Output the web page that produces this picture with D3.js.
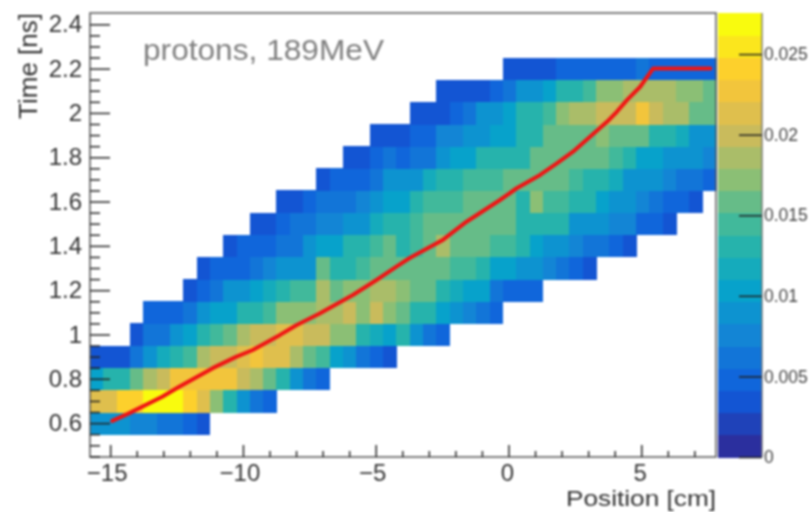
<!DOCTYPE html>
<html lang="en">
<head>
    <meta charset="UTF-8">
    <title>protons, 189MeV</title>
    <script src="https://d3js.org/d3.v7.min.js"></script>
    <style>
        html, body { margin: 0; padding: 0; background: #fff; }
        svg { display: block; filter: blur(0.9px); }
        text { font-family: "Liberation Sans", Arial, sans-serif; }
    </style>
</head>
<body>
<div id="chart-container"></div>
<script>
    // time bins (ns) and the first filled position bin of every time row
    const timeBins = [0.6, 0.7, 0.8, 0.9, 1.0, 1.1, 1.2, 1.3, 1.4, 1.5, 1.6, 1.7, 1.8, 1.9, 2.0, 2.1, 2.2];
    const firstBin = [0, 0, 0, 0, 3, 4, 7, 8, 10, 12, 14, 17, 19, 21, 24, 26, 31];

    // bin contents, one list per time row
    const row06 = [.0085, .0085, .0085, .0075, .0075, .0065, .006, .0045, .004];
    const row07 = [.0215, .0215, .0245, .0245, .0272, .0272, .0272, .0245, .022, .0175, .0125, .0095, .0065, .0045];
    const row08 = [.0105, .0125, .0135, .0165, .018, .0205, .023, .023, .023, .023, .023, .0205, .0185, .0155, .0125, .0095, .006, .005];
    const row09 = [.0035, .0035, .0035, .0065, .0095, .0115, .0135, .015, .018, .0195, .0195, .0215, .023, .0215, .0215, .018, .016, .015, .0105, .0095, .0065, .0055, .004];
    const row10 = [.004, .0065, .0065, .0085, .011, .0125, .014, .0155, .0185, .0195, .0205, .0215, .0215, .0195, .0195, .0175, .017, .0135, .012, .0105, .0125, .0085, .0065, .0045];
    const row11 = [.0045, .0045, .0055, .0065, .0085, .01, .0105, .0125, .0135, .015, .0175, .0175, .0175, .0185, .0185, .0195, .0175, .0195, .0175, .0165, .013, .013, .011, .0085, .007, .0065, .0045];
    const row12 = [.004, .005, .0065, .0085, .0095, .0105, .0115, .0125, .0145, .0145, .0185, .0155, .0175, .0175, .018, .018, .017, .0165, .0165, .013, .012, .0105, .0105, .0065, .0055, .0045, .0045];
    const row13 = [.0035, .0045, .0045, .005, .0065, .0075, .0085, .0085, .0095, .0155, .0125, .0135, .014, .0165, .0155, .0155, .0165, .0165, .0165, .0145, .0145, .013, .0105, .0105, .0095, .0085, .007, .0065, .0055, .004];
    const row14 = [.0035, .0045, .0045, .005, .0065, .0065, .0085, .0105, .0105, .0125, .0125, .015, .0165, .0135, .0145, .0165, .0185, .0165, .0165, .0165, .014, .014, .0125, .0105, .0095, .0095, .0075, .0065, .0065, .0045, .0035];
    const row15 = [.0035, .004, .0045, .0065, .0065, .007, .0075, .0085, .0095, .0115, .0125, .0125, .014, .0165, .0165, .0165, .0165, .0165, .0165, .0165, .0135, .0125, .0125, .0125, .0095, .0095, .0085, .0075, .0075, .0055, .005, .004];
    const row16 = [.003, .0035, .0045, .006, .0065, .0065, .0075, .0095, .0105, .0105, .0125, .014, .014, .015, .0165, .0165, .0165, .0165, .0135, .0175, .0145, .0145, .0135, .0135, .0105, .0095, .0095, .0075, .0065, .0055, .0055, .004];
    const row17 = [.0035, .0045, .0045, .0055, .0065, .0085, .0095, .0095, .0115, .0125, .0125, .0145, .0145, .0145, .0165, .0165, .0165, .0165, .0165, .0145, .0135, .0135, .0115, .0095, .0095, .0085, .0075, .0065, .0065, .005];
    const row18 = [.003, .004, .0045, .0065, .0055, .0065, .0065, .0085, .0105, .0105, .0125, .0125, .0135, .0135, .0165, .0165, .0165, .0165, .0165, .0165, .014, .0135, .0105, .0105, .0095, .0085, .0085, .0075];
    const row19 = [.0035, .004, .004, .005, .005, .0075, .0075, .0095, .0095, .0105, .0105, .0125, .0125, .0165, .0165, .0165, .0165, .0175, .0165, .0165, .0165, .0125, .0125, .0115, .0095, .0095];
    const row20 = [.003, .0035, .004, .0055, .006, .0085, .0085, .0105, .0125, .0135, .015, .0175, .0185, .0185, .02, .02, .0195, .0225, .0195, .0185, .0185, .0165, .0155];
    const row21 = [.003, .0035, .004, .004, .005, .0065, .0085, .0095, .0105, .0125, .0135, .015, .0175, .0175, .0185, .0185, .0185, .0185, .0175, .0175, .016];
    const row22 = [.003, .003, .003, .003, .0045, .0045, .0045, .0045, .0045, .0045, .0065, .0055, .0055, .0055, .0055, .0055];
    const rows = [row06, row07, row08, row09, row10, row11, row12, row13, row14, row15, row16, row17, row18, row19, row20, row21, row22];

    // red curve
    const curvePos = [-14.92, -14.28, -13.04, -12.4, -11.14, -10.26, -9.63, -8.62, -7.99, -7.11, -5.86, -4.97, -4.22, -3.72, -2.46, -1.58, -0.32, 0.31, 1.19, 1.82, 2.43, 3.07, 3.71, 4.08, 4.46, 4.96, 5.45, 7.6];
    const curveTime = [0.61, 0.645, 0.719, 0.764, 0.848, 0.899, 0.93, 0.997, 1.042, 1.095, 1.178, 1.246, 1.306, 1.345, 1.428, 1.509, 1.607, 1.66, 1.72, 1.772, 1.825, 1.893, 1.96, 2.005, 2.058, 2.118, 2.201, 2.201];

    const xTicks = [-15, -10, -5, 0, 5];
    const yTicks = [0.6, 0.8, 1, 1.2, 1.4, 1.6, 1.8, 2, 2.2, 2.4];
    const zTicks = [0, 0.005, 0.01, 0.015, 0.02, 0.025];

    // kBird stops
    const birdStops = ["#2b2f9e", "#0f5cdd", "#1481d6", "#06a4ca", "#2eb7a4", "#87bf77", "#d1bb59", "#fec832", "#f9fb0e"];

    const width = 811;
    const height = 512;
    const plot = { left: 90, right: 716, top: 13, bottom: 457 };
    const bar = { left: 718, right: 762 };
    const nLevels = 20;
    const nBins = 47;

    const svg = d3.select("#chart-container")
        .append("svg")
        .attr("width", width)
        .attr("height", height);

    const x = d3.scaleLinear().domain([-15.76, 7.815]).range([plot.left, plot.right]);
    const y = d3.scaleLinear().domain([0.447, 2.451]).range([plot.bottom, plot.top]);
    const z = d3.scaleLinear().domain([0, 0.02755]).range([plot.bottom, plot.top]);
    const bins = d3.scaleBand().domain(d3.range(nBins)).range([plot.left, plot.right]);

    const bird = d3.scaleLinear()
        .domain(birdStops.map((c, i) => i / (birdStops.length - 1)))
        .range(birdStops);
    const levels = d3.range(nLevels).map(i => bird(i / (nLevels - 1)));
    const color = d3.scaleQuantize().domain(z.domain()).range(levels);

    // the histogram
    const cells = rows.flatMap((row, r) => row.map((v, i) => ({
        bin: firstBin[r] + i, time: timeBins[r], value: v
    })));

    svg.append("g")
        .attr("shape-rendering", "crispEdges")
        .selectAll("rect")
        .data(cells)
        .join("rect")
        .attr("x", d => bins(d.bin))
        .attr("y", d => y(d.time + 0.05))
        .attr("width", bins.bandwidth() + 0.5)
        .attr("height", d => y(d.time - 0.05) - y(d.time + 0.05) + 0.5)
        .attr("fill", d => color(d.value));

    // colour bar
    const levelEdges = d3.range(nLevels).map(i => i * z.domain()[1] / nLevels);
    svg.append("g")
        .attr("shape-rendering", "crispEdges")
        .selectAll("rect")
        .data(levelEdges)
        .join("rect")
        .attr("x", bar.left)
        .attr("width", bar.right - bar.left)
        .attr("y", d => z(d + z.domain()[1] / nLevels))
        .attr("height", (plot.bottom - plot.top) / nLevels + 0.5)
        .attr("fill", (d, i) => levels[i]);

    // frame
    svg.append("rect")
        .attr("x", plot.left).attr("y", plot.top)
        .attr("width", plot.right - plot.left).attr("height", plot.bottom - plot.top)
        .attr("fill", "none").attr("stroke", "#555").attr("stroke-width", 1.5);

    svg.append("line")
        .attr("x1", bar.right).attr("x2", bar.right)
        .attr("y1", plot.top).attr("y2", plot.bottom)
        .attr("stroke", "#666").attr("stroke-width", 1.2);

    // curve on top
    const curve = d3.line().x(d => x(d[0])).y(d => y(d[1]));
    svg.append("path")
        .attr("d", curve(d3.zip(curvePos, curveTime)))
        .attr("fill", "none")
        .attr("stroke", "#f01414")
        .attr("stroke-width", 4)
        .attr("stroke-linejoin", "round")
        .attr("stroke-linecap", "round");

    // axes, ticks point inwards like in ROOT
    const xAxis = d3.axisBottom(x).tickValues(xTicks).tickSize(-12).tickPadding(6.5);
    const xMinor = d3.axisBottom(x).tickValues(d3.range(-15, 8).filter(d => d % 5 !== 0)).tickSize(-6).tickFormat("");
    const yAxis = d3.axisLeft(y).tickValues(yTicks).tickSize(-20).tickPadding(8).tickFormat(d3.format("~g"));
    const yMinor = d3.axisLeft(y).tickValues(d3.range(0.45, 2.45, 0.05).map(d => +d.toFixed(2)).filter(d => !yTicks.includes(d))).tickSize(-10).tickFormat("");
    const zAxis = d3.axisRight(z).tickValues(zTicks).tickSize(-23).tickPadding(2).tickFormat(d3.format("~g"));

    function styleAxis(g, size, fill) {
        g.select(".domain").remove();
        g.selectAll(".tick line").attr("stroke", "#222").attr("stroke-width", 1.5);
        g.selectAll("text").attr("font-size", size).attr("fill", fill);
    }

    svg.append("g").attr("transform", `translate(0,${plot.bottom})`).call(xMinor).call(styleAxis, 1, "#333");
    svg.append("g").attr("transform", `translate(0,${plot.bottom})`).call(xAxis).call(styleAxis, 24, "#333")
        .selectAll("text").attr("dx", d => d < 0 ? -3.5 : -1.5);
    svg.append("g").attr("transform", `translate(${plot.left},0)`).call(yMinor).call(styleAxis, 1, "#333");
    svg.append("g").attr("transform", `translate(${plot.left},0)`).call(yAxis).call(styleAxis, 24, "#333");
    svg.append("g").attr("transform", `translate(${bar.right},0)`).call(zAxis).call(styleAxis, 17.5, "#444");

    // titles
    svg.append("text")
        .attr("x", plot.right).attr("y", 506)
        .attr("text-anchor", "end").attr("font-size", 22).attr("fill", "#333")
        .attr("textLength", 150).attr("lengthAdjust", "spacingAndGlyphs")
        .text("Position [cm]");

    svg.append("text")
        .attr("transform", "translate(37,13) rotate(-90)")
        .attr("text-anchor", "end").attr("font-size", 26).attr("fill", "#333")
        .text("Time [ns]");

    svg.append("text")
        .attr("x", 143).attr("y", 60)
        .attr("font-size", 30).attr("fill", "#808080")
        .attr("textLength", 241).attr("lengthAdjust", "spacingAndGlyphs")
        .text("protons, 189MeV");
</script>
</body>
</html>
